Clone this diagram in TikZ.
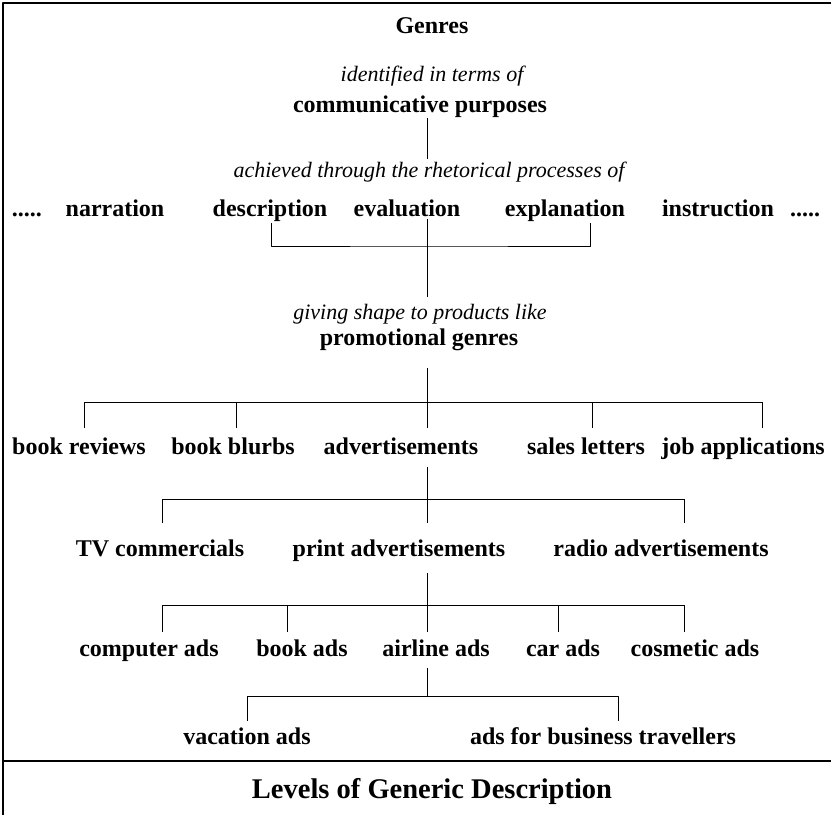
\documentclass[tikz,border=0pt]{standalone}
\usepackage{fontspec}
\setmainfont{Liberation Serif}
\begin{document}
\begin{tikzpicture}[x=1pt, y=-1pt, line join=round, line cap=butt,
	lvl/.style={font=\bfseries\fontsize{24}{28}\selectfont, inner sep=0pt, anchor=base},
	how/.style={font=\itshape\fontsize{22}{26}\selectfont, inner sep=0pt, anchor=base},
	link/.style={line width=0.8pt}]
	\useasboundingbox (0,0) rectangle (831,815);
	% frame and caption rule
	\draw[line width=2pt] (3,815) -- (3,3) -- (831,3);
	\draw[line width=2.5pt] (3,761) -- (831,761);
	% texts
	\node[lvl] (genres) at (432,33) {Genres};
	\node[how] (ident) at (432,81) {identified in terms of};
	\node[lvl] (cp) at (420,112) {communicative purposes};
	\node[how] (ach) at (429,177) {achieved through the rhetorical processes of};
	\node[lvl] (dl) at (27,216) {.....};
	\node[lvl] (dr) at (805,216) {.....};
	\foreach \x/\j/\t in {115/nar/narration,270/desc/description,407/eval/evaluation,565/expl/explanation,718/instr/instruction}{
		\node[lvl] (\j) at (\x,216) {\t};
	}
	\node[how] (giving) at (420,319) {giving shape to products like};
	\node[lvl] (pg) at (419,345) {promotional genres};
	\foreach \x/\j/\t in {79/br/book reviews,233/bb/book blurbs,401/ad/advertisements,586/sl/sales letters,743/ja/job applications}{
		\node[lvl] (\j) at (\x,454) {\t};
	}
	\foreach \x/\j/\t in {160/tv/TV commercials,399/pa/print advertisements,661/ra/radio advertisements}{
		\node[lvl] (\j) at (\x,556) {\t};
	}
	\foreach \x/\j/\t in {149/comp/computer ads,302/book/book ads,436/air/airline ads,563/car/car ads,695/cos/cosmetic ads}{
		\node[lvl] (\j) at (\x,656) {\t};
	}
	\node[lvl] (vac) at (247,744) {vacation ads};
	\node[lvl] (bus) at (603,744) {ads for business travellers};
	\node[lvl, font=\bfseries\fontsize{28.5}{32}\selectfont] (levels) at (432,798) {Levels of Generic Description};
	% purposes -> processes
	\path (427,118) coordinate (cp-tail) (427,159) coordinate (ach-head);
	\draw[link] (cp-tail) -- (ach-head);
	% processes bracket
	\path (427,219) coordinate (eval-tail) (427,246) coordinate (b1) (427,297) coordinate (giving-head);
	\foreach \x/\j in {271/desc,590/expl}{
		\path (\x,223) coordinate (\j-foot);
	}
	\draw[link] (desc-foot) |- (b1) -| (expl-foot);
	\draw[link] (eval-tail) -- (giving-head);
	% promotional genres
	\path (427,368) coordinate (pg-tail) (427,402) coordinate (b2);
	\draw[link] (pg-tail) -- (b2);
	\foreach \x/\j in {84/br,236/bb,427/ad,592/sl,762/ja}{
		\path (\x,428) coordinate (\j-top);
		\draw[link] (\j-top |- b2) -- (\j-top);
	}
	\draw[link] (br-top |- b2) -- (ja-top |- b2);
	% advertisements
	\path (427,467) coordinate (ad-tail) (427,499) coordinate (b3);
	\draw[link] (ad-tail) -- (b3);
	\foreach \x/\j in {162/tv,427/pa,684/ra}{
		\path (\x,523) coordinate (\j-top);
		\draw[link] (\j-top |- b3) -- (\j-top);
	}
	\draw[link] (tv-top |- b3) -- (ra-top |- b3);
	% print advertisements
	\path (427,573) coordinate (pa-tail) (427,605) coordinate (b4);
	\draw[link] (pa-tail) -- (b4);
	\foreach \x/\j in {162/comp,287/book,427/air,558/car,684/cos}{
		\path (\x,632) coordinate (\j-top);
		\draw[link] (\j-top |- b4) -- (\j-top);
	}
	\draw[link] (comp-top |- b4) -- (cos-top |- b4);
	% airline ads
	\path (427,668) coordinate (air-tail) (427,696) coordinate (b5);
	\draw[link] (air-tail) -- (b5);
	\foreach \x/\j in {247/vac,618/bus}{
		\path (\x,721) coordinate (\j-top);
	}
	\draw[link] (vac-top) |- (b5) -| (bus-top);
\end{tikzpicture}
\end{document}
